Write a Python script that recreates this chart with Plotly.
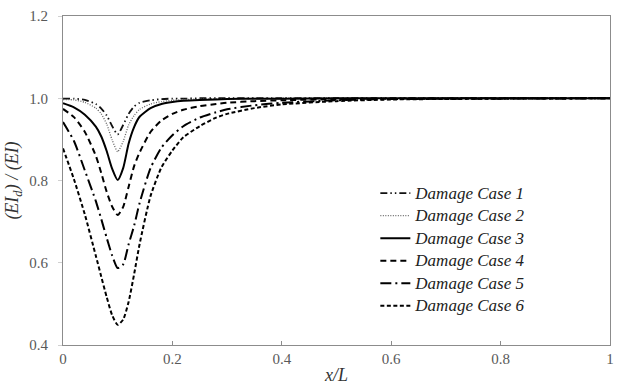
import plotly.graph_objects as go

# x/L sample positions
x_vals = [0, 0.02, 0.04, 0.06, 0.07, 0.08, 0.09, 0.1, 0.11, 0.12, 0.13, 0.14,
          0.16, 0.18, 0.2, 0.22, 0.25, 0.28, 0.3, 0.35, 0.4, 0.5, 0.6, 0.8, 1.0]

case1 = [0.999, 0.999, 0.996, 0.986, 0.975, 0.958, 0.932, 0.912, 0.935, 0.962, 0.980, 0.989,
         0.995, 0.998, 0.999, 0.999, 1.0, 1.0, 1.0, 1.0, 1.0, 1.0, 1.0, 1.0, 1.0]
case2 = [0.997, 0.996, 0.990, 0.976, 0.962, 0.937, 0.898, 0.870, 0.895, 0.935, 0.958, 0.973,
         0.986, 0.992, 0.995, 0.997, 0.998, 0.999, 0.999, 1.0, 1.0, 1.0, 1.0, 1.0, 1.0]
case3 = [0.988, 0.978, 0.960, 0.931, 0.907, 0.871, 0.828, 0.801, 0.830, 0.890, 0.930, 0.955,
         0.976, 0.986, 0.991, 0.994, 0.996, 0.997, 0.998, 0.999, 0.999, 1.0, 1.0, 1.0, 1.0]
case4 = [0.974, 0.954, 0.918, 0.860, 0.818, 0.772, 0.736, 0.716, 0.736, 0.785, 0.835, 0.868,
         0.918, 0.946, 0.962, 0.972, 0.981, 0.986, 0.989, 0.993, 0.995, 0.998, 0.999, 1.0, 1.0]
case5 = [0.942, 0.896, 0.824, 0.750, 0.706, 0.660, 0.617, 0.587, 0.596, 0.645, 0.690, 0.745,
         0.830, 0.880, 0.910, 0.932, 0.953, 0.966, 0.973, 0.983, 0.989, 0.995, 0.998, 0.999, 1.0]
case6 = [0.878, 0.803, 0.717, 0.617, 0.566, 0.516, 0.472, 0.449, 0.462, 0.505, 0.572, 0.645,
         0.762, 0.832, 0.873, 0.905, 0.932, 0.953, 0.962, 0.976, 0.985, 0.993, 0.997, 0.999, 1.0]

series_names = ["Damage Case 1", "Damage Case 2", "Damage Case 3",
                "Damage Case 4", "Damage Case 5", "Damage Case 6"]
series_values = [case1, case2, case3, case4, case5, case6]

x_ticks = [0, 0.2, 0.4, 0.6, 0.8, 1]
x_tick_labels = ["0", "0.2", "0.4", "0.6", "0.8", "1"]
y_ticks = [0.4, 0.6, 0.8, 1.0, 1.2]

styles = [
    dict(color="#111111", width=1.8, dash="7px,3px,1.5px,3px,1.5px,3px"),
    dict(color="#666666", width=1.3, dash="1px,1.5px"),
    dict(color="#000000", width=2.0, dash="solid"),
    dict(color="#000000", width=2.0, dash="6px,4px"),
    dict(color="#000000", width=2.0, dash="11px,4px,2px,4px"),
    dict(color="#000000", width=2.0, dash="4px,2.5px"),
]

fig = go.Figure()
for name, vals, st in zip(series_names, series_values, styles):
    fig.add_trace(go.Scatter(
        x=x_vals, y=vals, mode="lines",
        name='<span style="font-size:17px">' + name + '</span>',
        line=dict(shape="spline", smoothing=0.6, **st),
    ))

serif = "Liberation Serif"

fig.update_layout(
    width=617, height=385,
    margin=dict(l=63, r=3, t=16, b=40),
    paper_bgcolor="white", plot_bgcolor="white",
    font=dict(family=serif, size=15, color="#595959"),
    showlegend=True,
    legend=dict(
        x=0.571, y=0.511, xanchor="left", yanchor="top",
        font=dict(family=serif, size=15, color="#222222", style="italic"),
        bgcolor="rgba(255,255,255,0)", itemwidth=30, tracegroupgap=0,
    ),
    xaxis=dict(
        range=[0, 1], tickvals=x_ticks, ticktext=x_tick_labels,
        showgrid=False, zeroline=False,
        showline=True, linecolor="#8c8c8c", linewidth=1, mirror=True,
        ticks="inside", ticklen=4, tickcolor="#8c8c8c",
        ticklabeloverflow="allow",
        tickfont=dict(family=serif, size=15, color="#595959"),
        title=dict(text="<i>x/L</i>", font=dict(family=serif, size=18, color="#333333"), standoff=2),
    ),
    yaxis=dict(
        range=[0.4, 1.2], tickvals=y_ticks, tickformat=".1f",
        showgrid=False, zeroline=False,
        showline=True, linecolor="#8c8c8c", linewidth=1, mirror=True,
        ticks="outside", ticklen=4, tickcolor="#d0d0d0",
        ticklabelstandoff=7,
        tickfont=dict(family=serif, size=15, color="#595959"),
        title=dict(text="<i>(EI<sub>d</sub>) / (EI)</i>", font=dict(family=serif, size=18, color="#333333"), standoff=5),
    ),
)

fig.write_html("out.html")
